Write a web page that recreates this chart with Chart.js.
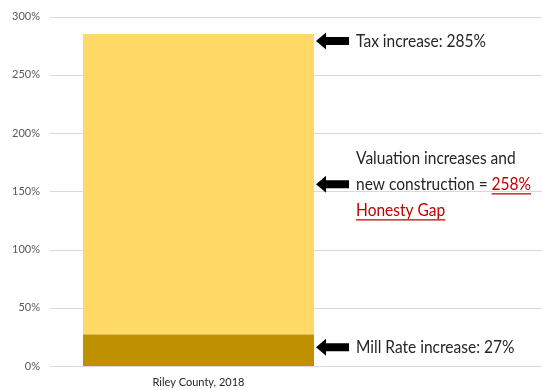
<!DOCTYPE html>
<html>
<head>
<meta charset="utf-8">
<script src="https://cdn.jsdelivr.net/npm/chart.js@4/dist/chart.umd.min.js"></script>
<style>
  body { margin: 0; background: #fff; }
  #mycanvas { display: block; }
</style>
</head>
<body>
<canvas id="mycanvas" width="542" height="390"></canvas>
<script>
// single stacked column: mill rate part + valuation part
var categories = ['Riley County, 2018'];
var millRate = [27];
var valuationGap = [258];
var taxIncrease = [285];

var FONT = 'Lato, "Liberation Sans", Arial, sans-serif';

// horizontal grid lines run all the way to the right edge, under the notes
var fullGrid = {
  id: 'fullGrid',
  beforeDatasetsDraw: function(chart) {
    var ctx = chart.ctx;
    var y = chart.scales.y;
    ctx.save();
    ctx.strokeStyle = '#d9d9d9';
    ctx.lineWidth = 1;
    y.ticks.forEach(function(t) {
      var py = Math.round(y.getPixelForValue(t.value)) + 0.5;
      ctx.beginPath();
      ctx.moveTo(chart.chartArea.left, py);
      ctx.lineTo(chart.width, py);
      ctx.stroke();
    });
    ctx.restore();
  }
};

function arrow(ctx, tipX, y) {
  ctx.beginPath();
  ctx.moveTo(tipX, y);
  ctx.lineTo(tipX + 10, y - 8.5);
  ctx.lineTo(tipX + 10, y - 4);
  ctx.lineTo(tipX + 33, y - 4);
  ctx.lineTo(tipX + 33, y + 4);
  ctx.lineTo(tipX + 10, y + 4);
  ctx.lineTo(tipX + 10, y + 8.5);
  ctx.closePath();
  ctx.fill();
}

// text is drawn squeezed horizontally (sx), so x positions are in squeezed units
function redUnderlined(ctx, text, x, y) {
  ctx.fillStyle = '#c00000';
  ctx.fillText(text, x, y);
  var w = ctx.measureText(text).width;
  ctx.strokeStyle = '#c00000';
  ctx.lineWidth = 1.3;
  ctx.beginPath();
  ctx.moveTo(x, y + 9.5);
  ctx.lineTo(x + w, y + 9.5);
  ctx.stroke();
}

// arrows + notes to the right of the column
var notes = {
  id: 'notes',
  afterDraw: function(chart) {
    var ctx = chart.ctx;
    var y = chart.scales.y;
    var bar = chart.getDatasetMeta(1).data[0];
    var tipX = bar.x + bar.width / 2 + 2;
    var textX = tipX + 40;
    var lh = 26;

    var yTop = y.getPixelForValue(taxIncrease[0]) + 7;
    var yMid = y.getPixelForValue((millRate[0] + taxIncrease[0]) / 2);
    var yLow = y.getPixelForValue(millRate[0] / 2) - 3;

    ctx.save();
    ctx.fillStyle = '#000';
    arrow(ctx, tipX, yTop);
    arrow(ctx, tipX, yMid);
    arrow(ctx, tipX, yLow);

    ctx.font = '18px ' + FONT;
    ctx.textBaseline = 'middle';
    ctx.textAlign = 'left';
    var topText = 'Tax increase: ' + taxIncrease[0] + '%';
    var sx = 130 / ctx.measureText(topText).width;
    ctx.translate(textX, 0);
    ctx.scale(sx, 1);

    ctx.fillStyle = '#262626';
    ctx.fillText(topText, 0, yTop);
    ctx.fillText('Mill Rate increase: ' + millRate[0] + '%', 0, yLow);

    ctx.fillText('Valuation increases and', 0, yMid - lh);
    var lead = 'new construction = ';
    ctx.fillText(lead, 0, yMid);
    var lw = ctx.measureText(lead).width;
    redUnderlined(ctx, valuationGap[0] + '%', lw, yMid);
    redUnderlined(ctx, 'Honesty Gap', 0, yMid + lh);
    ctx.restore();
  }
};

var ctx = document.getElementById('mycanvas');

new Chart(ctx, {
  type: 'bar',
  data: {
    labels: categories,
    datasets: [
      {
        label: 'Mill Rate increase',
        data: millRate,
        backgroundColor: '#bf9000',
        barPercentage: 0.778,
        categoryPercentage: 1
      },
      {
        label: 'Valuation increases and new construction',
        data: valuationGap,
        backgroundColor: '#ffd966',
        barPercentage: 0.778,
        categoryPercentage: 1
      }
    ]
  },
  options: {
    responsive: false,
    animation: false,
    layout: { padding: { top: 10, right: 195, left: 0, bottom: 0 } },
    plugins: {
      legend: { display: false },
      tooltip: { enabled: false }
    },
    scales: {
      x: {
        stacked: true,
        grid: { display: false },
        border: { display: false },
        ticks: {
          color: '#262626',
          font: { family: FONT, size: 11 },
          padding: 2
        },
        afterFit: function(scale) { scale.height = 24; }
      },
      y: {
        stacked: true,
        min: 0,
        max: 300,
        grid: { display: false, drawTicks: false },
        border: { display: false },
        ticks: {
          stepSize: 50,
          padding: 10,
          color: '#595959',
          font: { family: FONT, size: 11 },
          callback: function(v) { return v + '%'; }
        },
        afterFit: function(scale) { scale.width = 50; }
      }
    }
  },
  plugins: [fullGrid, notes]
});
</script>
</body>
</html>
